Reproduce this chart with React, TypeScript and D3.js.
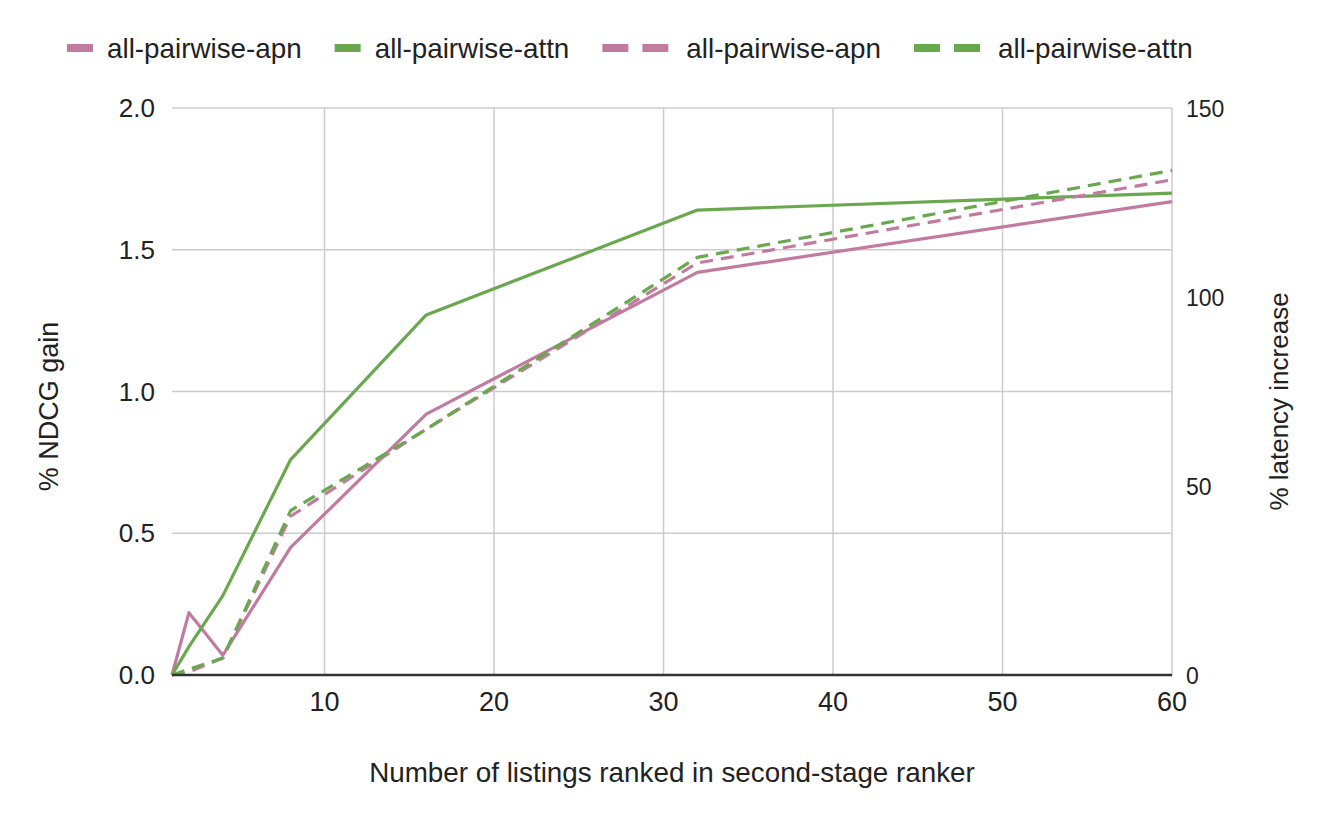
import * as d3 from 'd3';
import React, { useEffect, useRef } from 'react';

// listings ranked (x) and the four series
const listings = [1, 2, 4, 8, 16, 32, 60];
const ndcgApn = [0, 0.22, 0.07, 0.45, 0.92, 1.42, 1.67];
const ndcgAttn = [0, 0.1, 0.28, 0.76, 1.27, 1.64, 1.7];
const latencyApn = [0, 0.8, 4.5, 42, 65, 109, 131];
const latencyAttn = [0, 1.5, 4.5, 43.5, 65, 110.5, 133.5];

const xTicks = [10, 20, 30, 40, 50, 60];
const leftTicks = [0, 0.5, 1.0, 1.5, 2.0];
const rightTicks = [0, 50, 100, 150];

const seriesNames = ['all-pairwise-apn', 'all-pairwise-attn', 'all-pairwise-apn', 'all-pairwise-attn'];

const PINK = '#c27ba0';
const GREEN = '#6aa84f';
const FONT = '"Liberation Sans", Arial, Helvetica, sans-serif';
const TEXT = '#222';

const App: React.FC = () => {
  const ref = useRef<SVGSVGElement>(null);

  useEffect(() => {
    if (!ref.current) return;
    document.body.style.margin = '0';
    const svg = d3.select(ref.current);
    svg.selectAll('*').remove();

    const left = 172, right = 1172, top = 108, bottom = 675;

    const x = d3.scaleLinear().domain([1, 60]).range([left, right]);
    const yL = d3.scaleLinear().domain([0, 2]).range([bottom, top]);
    const yR = d3.scaleLinear().domain([0, 150]).range([bottom, top]);

    // grid
    const grid = svg.append('g');
    grid.selectAll('.hg').data(leftTicks.slice(1)).enter().append('line')
      .attr('x1', left).attr('x2', right)
      .attr('y1', d => yL(d)).attr('y2', d => yL(d))
      .attr('stroke', '#cccccc').attr('stroke-width', 1.5);
    grid.selectAll('.vg').data(xTicks).enter().append('line')
      .attr('x1', d => x(d)).attr('x2', d => x(d))
      .attr('y1', top).attr('y2', bottom)
      .attr('stroke', '#cccccc').attr('stroke-width', 1.5);

    // tick labels
    svg.append('g').selectAll('text').data(leftTicks).enter().append('text')
      .attr('x', 155).attr('y', d => yL(d) + 9)
      .attr('text-anchor', 'end')
      .style('font', `26px ${FONT}`).attr('fill', TEXT)
      .text(d => d3.format('.1f')(d));
    svg.append('g').selectAll('text').data(rightTicks).enter().append('text')
      .attr('x', 1186).attr('y', d => yR(d) + 9)
      .attr('text-anchor', 'start')
      .style('font', `23px ${FONT}`).attr('fill', TEXT)
      .text(d => String(d));
    svg.append('g').selectAll('text').data(xTicks).enter().append('text')
      .attr('x', d => x(d)).attr('y', 711)
      .attr('text-anchor', 'middle')
      .style('font', `27px ${FONT}`).attr('fill', TEXT)
      .text(d => String(d));

    // axis titles
    svg.append('text')
      .attr('transform', `translate(58,${(top + bottom) / 2 + 15}) rotate(-90)`)
      .attr('text-anchor', 'middle')
      .style('font', `27px ${FONT}`).attr('fill', TEXT)
      .text('% NDCG gain');
    svg.append('text')
      .attr('transform', `translate(1288,${(top + bottom) / 2 + 10}) rotate(-90)`)
      .attr('text-anchor', 'middle')
      .style('font', `26px ${FONT}`).attr('fill', TEXT)
      .text('% latency increase');
    svg.append('text')
      .attr('x', (left + right) / 2).attr('y', 782)
      .attr('text-anchor', 'middle')
      .style('font', `27.8px ${FONT}`).attr('fill', TEXT)
      .text('Number of listings ranked in second-stage ranker');

    // series
    const series = [
      { values: ndcgApn, y: yL, color: PINK, dash: null },
      { values: ndcgAttn, y: yL, color: GREEN, dash: null },
      { values: latencyApn, y: yR, color: PINK, dash: '13,8' },
      { values: latencyAttn, y: yR, color: GREEN, dash: '13,8' },
    ];
    series.forEach(s => {
      const line = d3.line<number>()
        .x((_, i) => x(listings[i]))
        .y(d => s.y(d));
      svg.append('path')
        .datum(s.values)
        .attr('d', line)
        .attr('fill', 'none')
        .attr('stroke', s.color)
        .attr('stroke-width', 3.2)
        .attr('stroke-linejoin', 'round')
        .attr('stroke-dasharray', s.dash);
    });

    // baseline
    svg.append('line')
      .attr('x1', left).attr('x2', right)
      .attr('y1', bottom).attr('y2', bottom)
      .attr('stroke', '#333').attr('stroke-width', 2.5);

    // legend, laid out left to right from measured text widths
    const legend = svg.append('g');
    let lx = 67;
    seriesNames.forEach((name, i) => {
      const s = series[i];
      legend.append('rect').attr('x', lx).attr('y', 44).attr('width', 26).attr('height', 8).attr('fill', s.color);
      lx += 26;
      if (s.dash) {
        legend.append('rect').attr('x', lx + 14).attr('y', 44).attr('width', 26).attr('height', 8).attr('fill', s.color);
        lx += 40;
        lx += 18;
      } else {
        lx += 14;
      }
      const t = legend.append('text').attr('x', lx).attr('y', 58)
        .style('font', `27.8px ${FONT}`).attr('fill', TEXT).text(name);
      const w = (t.node() as SVGTextElement).getComputedTextLength();
      lx += w + 33;
    });
  }, []);

  return <svg ref={ref} width={1336} height={826} style={{ display: 'block', background: '#fff' }} />;
};

export default App;
